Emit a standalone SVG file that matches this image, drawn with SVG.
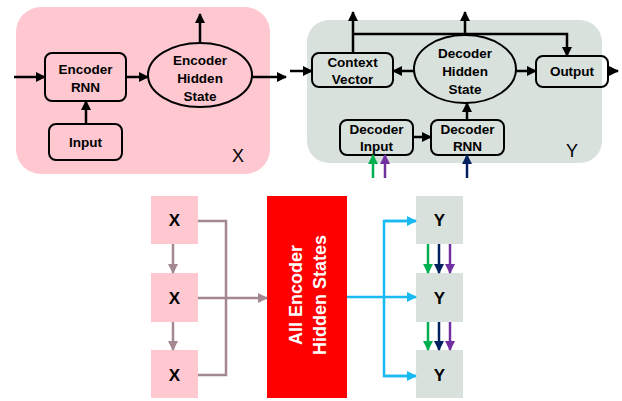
<svg xmlns="http://www.w3.org/2000/svg" width="622" height="401" viewBox="0 0 622 401">
  <style>
    .lbl { font-family: "Liberation Sans", Arial, sans-serif; font-weight: bold; font-size: 13.5px; fill: #000; text-anchor: middle; }
    .tag { font-family: "Liberation Sans", Arial, sans-serif; font-size: 18px; fill: #000; text-anchor: middle; }
    .big { font-family: "Liberation Sans", Arial, sans-serif; font-weight: bold; font-size: 17px; fill: #000; text-anchor: middle; }
    .node { fill: none; stroke: #000; stroke-width: 2; }
    .wire { fill: none; stroke: #000; stroke-width: 2.5; }
    .enc { fill: #FFC8D0; }
    .dec { fill: #D8E1DC; }
  </style>
  <defs>
    <marker id="ahk" viewBox="0 0 10 10" refX="9" refY="5" markerWidth="4" markerHeight="4" orient="auto" markerUnits="strokeWidth">
      <path d="M0,0 L10,5 L0,10 z" fill="#000"/>
    </marker>
    <marker id="ahg" viewBox="0 0 10 10" refX="9" refY="5" markerWidth="4" markerHeight="4" orient="auto" markerUnits="strokeWidth">
      <path d="M0,0 L10,5 L0,10 z" fill="#A3888F"/>
    </marker>
    <marker id="ahb" viewBox="0 0 10 10" refX="9" refY="5" markerWidth="4" markerHeight="4" orient="auto" markerUnits="strokeWidth">
      <path d="M0,0 L10,5 L0,10 z" fill="#19B9F2"/>
    </marker>
    <marker id="ahgr" viewBox="0 0 10 10" refX="9" refY="5" markerWidth="4" markerHeight="4" orient="auto" markerUnits="strokeWidth">
      <path d="M0,0 L10,5 L0,10 z" fill="#00B050"/>
    </marker>
    <marker id="ahnv" viewBox="0 0 10 10" refX="9" refY="5" markerWidth="4" markerHeight="4" orient="auto" markerUnits="strokeWidth">
      <path d="M0,0 L10,5 L0,10 z" fill="#002060"/>
    </marker>
    <marker id="ahpu" viewBox="0 0 10 10" refX="9" refY="5" markerWidth="4" markerHeight="4" orient="auto" markerUnits="strokeWidth">
      <path d="M0,0 L10,5 L0,10 z" fill="#7030A0"/>
    </marker>
  </defs>

  <!-- encoder step panel -->
  <g id="encoder-panel">
    <rect x="16" y="7" width="254" height="167" rx="25" class="enc"/>
    <text x="238" y="162" class="tag">X</text>
  </g>
  <g id="encoder-rnn">
    <rect x="45" y="53" width="81" height="48" rx="7" class="node"/>
    <text x="85.5" y="74" class="lbl">Encoder</text>
    <text x="85.5" y="92" class="lbl">RNN</text>
  </g>
  <g id="input">
    <rect x="49" y="124" width="73" height="36" rx="7" class="node"/>
    <text x="85.5" y="147" class="lbl">Input</text>
  </g>
  <g id="encoder-hidden">
    <ellipse cx="200" cy="75" rx="52" ry="32" class="node"/>
    <text x="200" y="65" class="lbl">Encoder</text>
    <text x="200" y="83" class="lbl">Hidden</text>
    <text x="200" y="101" class="lbl">State</text>
  </g>

  <!-- decoder step panel -->
  <g id="decoder-panel">
    <rect x="307" y="20" width="295" height="143" rx="22" class="dec"/>
    <text x="572" y="157" class="tag">Y</text>
  </g>
  <g id="context-vector">
    <rect x="312" y="53" width="81" height="34" rx="7" class="node"/>
    <text x="352.5" y="67" class="lbl">Context</text>
    <text x="352.5" y="84" class="lbl">Vector</text>
  </g>
  <g id="decoder-hidden">
    <ellipse cx="465" cy="69" rx="51" ry="34" class="node"/>
    <text x="465" y="58" class="lbl">Decoder</text>
    <text x="465" y="76" class="lbl">Hidden</text>
    <text x="465" y="94" class="lbl">State</text>
  </g>
  <g id="output">
    <rect x="536" y="56" width="72" height="31" rx="7" class="node"/>
    <text x="572" y="76" class="lbl">Output</text>
  </g>
  <g id="decoder-input">
    <rect x="340" y="120" width="73" height="35" rx="7" class="node"/>
    <text x="376.5" y="134" class="lbl">Decoder</text>
    <text x="376.5" y="151" class="lbl">Input</text>
  </g>
  <g id="decoder-rnn">
    <rect x="431" y="120" width="73" height="35" rx="7" class="node"/>
    <text x="467.5" y="134" class="lbl">Decoder</text>
    <text x="467.5" y="151" class="lbl">RNN</text>
  </g>

  <!-- unrolled sequence -->
  <g id="x1"><rect x="151" y="196" width="47" height="48" class="enc"/><text x="174.5" y="226" class="big">X</text></g>
  <g id="x2"><rect x="151" y="273" width="47" height="49" class="enc"/><text x="174.5" y="304" class="big">X</text></g>
  <g id="x3"><rect x="151" y="350" width="47" height="48" class="enc"/><text x="174.5" y="381" class="big">X</text></g>
  <g id="all-states">
    <rect x="267" y="196" width="80" height="202" fill="#FF0000"/>
    <g transform="translate(307 295) rotate(-90)" font-family="Liberation Sans, Arial, sans-serif" font-weight="bold" font-size="18" fill="#fff" text-anchor="middle">
      <text x="0" y="-5">All Encoder</text>
      <text x="0" y="19">Hidden States</text>
    </g>
  </g>
  <g id="y1"><rect x="416" y="196" width="47" height="48" class="dec"/><text x="439.5" y="226" class="big">Y</text></g>
  <g id="y2"><rect x="416" y="273" width="47" height="49" class="dec"/><text x="439.5" y="304" class="big">Y</text></g>
  <g id="y3"><rect x="416" y="350" width="47" height="48" class="dec"/><text x="439.5" y="381" class="big">Y</text></g>

  <g id="connectors">
    <!-- encoder step -->
    <line x1="14" y1="77" x2="45" y2="77" class="wire" marker-end="url(#ahk)"/>
    <line x1="126" y1="77" x2="148" y2="77" class="wire" marker-end="url(#ahk)"/>
    <line x1="252" y1="77" x2="286" y2="77" class="wire" marker-end="url(#ahk)"/>
    <line x1="200" y1="43" x2="200" y2="14" class="wire" marker-end="url(#ahk)"/>
    <line x1="86" y1="124" x2="86" y2="101" class="wire" marker-end="url(#ahk)"/>

    <!-- decoder step -->
    <line x1="290" y1="71" x2="312" y2="71" class="wire" marker-end="url(#ahk)"/>
    <line x1="414" y1="71" x2="393" y2="71" class="wire" marker-end="url(#ahk)"/>
    <line x1="516" y1="71" x2="536" y2="71" class="wire" marker-end="url(#ahk)"/>
    <line x1="608" y1="71" x2="618" y2="71" class="wire" marker-end="url(#ahk)"/>
    <line x1="353" y1="53" x2="353" y2="12" class="wire" marker-end="url(#ahk)"/>
    <line x1="465" y1="35" x2="465" y2="12" class="wire" marker-end="url(#ahk)"/>
    <polyline points="353,34 567,34 567,56" class="wire" marker-end="url(#ahk)"/>
    <line x1="467" y1="120" x2="467" y2="103" class="wire" marker-end="url(#ahk)"/>
    <line x1="413" y1="137" x2="431" y2="137" class="wire" marker-end="url(#ahk)"/>
    <line x1="373" y1="178" x2="373" y2="155" stroke="#00B050" stroke-width="2.5" marker-end="url(#ahgr)"/>
    <line x1="385" y1="178" x2="385" y2="155" stroke="#7030A0" stroke-width="2.5" marker-end="url(#ahpu)"/>
    <line x1="467" y1="178" x2="467" y2="155" stroke="#002060" stroke-width="2.5" marker-end="url(#ahnv)"/>

    <!-- encoder sequence into the stored states -->
    <g stroke="#A3888F" stroke-width="2.5" fill="none">
      <line x1="173" y1="244" x2="173" y2="273" marker-end="url(#ahg)"/>
      <line x1="173" y1="322" x2="173" y2="350" marker-end="url(#ahg)"/>
      <polyline points="198,221 226,221 226,375 198,375"/>
      <line x1="198" y1="298" x2="267" y2="298" marker-end="url(#ahg)"/>
    </g>

    <!-- stored states out to every decoder step -->
    <g stroke="#19B9F2" stroke-width="2.5" fill="none">
      <line x1="347" y1="297" x2="416" y2="297" marker-end="url(#ahb)"/>
      <polyline points="416,221 384,221 384,376 416,376"/>
      <line x1="384" y1="221" x2="416" y2="221" marker-end="url(#ahb)"/>
      <line x1="384" y1="376" x2="416" y2="376" marker-end="url(#ahb)"/>
    </g>

    <!-- decoder step to step -->
    <line x1="428" y1="244" x2="428" y2="273" stroke="#00B050" stroke-width="2.5" marker-end="url(#ahgr)"/>
    <line x1="439" y1="244" x2="439" y2="273" stroke="#002060" stroke-width="2.5" marker-end="url(#ahnv)"/>
    <line x1="450" y1="244" x2="450" y2="273" stroke="#7030A0" stroke-width="2.5" marker-end="url(#ahpu)"/>
    <line x1="428" y1="322" x2="428" y2="350" stroke="#00B050" stroke-width="2.5" marker-end="url(#ahgr)"/>
    <line x1="439" y1="322" x2="439" y2="350" stroke="#002060" stroke-width="2.5" marker-end="url(#ahnv)"/>
    <line x1="450" y1="322" x2="450" y2="350" stroke="#7030A0" stroke-width="2.5" marker-end="url(#ahpu)"/>
  </g>
</svg>
